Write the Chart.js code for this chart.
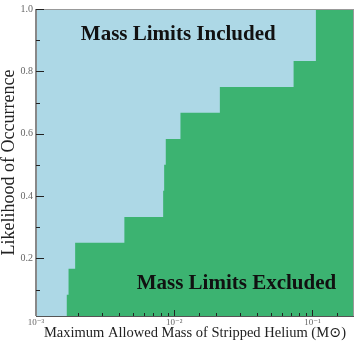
<!DOCTYPE html>
<html>
<head>
<meta charset="utf-8">
<script src="https://cdn.jsdelivr.net/npm/chart.js@4"></script>
<style>
  html, body { margin: 0; padding: 0; background: #fff; }
  #wrap { width: 357px; height: 346px; }
</style>
</head>
<body>
<div id="wrap"><canvas id="grafico" width="357" height="346"></canvas></div>
<script>
// Escalones de la curva (masa máxima de helio vs. probabilidad)
const masaHelio = [0.001, 0.00167, 0.00172, 0.00192, 0.00436, 0.00832, 0.00846, 0.00869, 0.0111, 0.0214, 0.0731, 0.106, 0.2];
const probabilidad = [0, 0.083, 0.167, 0.25, 0.333, 0.417, 0.5, 0.583, 0.667, 0.75, 0.833, 1.0, 1.0];

// Marcas del eje y
const ticksMayoresY = [0.2, 0.4, 0.6, 0.8, 1.0];
const ticksMenoresY = [0.1, 0.3, 0.5, 0.7, 0.9];

// Textos dentro del gráfico (coordenadas en datos)
const textoIncluido = { texto: 'Mass Limits Included', x: 0.0107, y: 0.918 };
const textoExcluido = { texto: 'Mass Limits Excluded', x: 0.0282, y: 0.12 };

const VERDE = '#3cb371';
const CELESTE = '#add8e6';
const SERIF = '"Liberation Serif", "DejaVu Serif", serif';

const superindices = { '-': '⁻', '0': '⁰', '1': '¹', '2': '²', '3': '³', '4': '⁴', '5': '⁵', '6': '⁶', '7': '⁷', '8': '⁸', '9': '⁹' };
function esPotencia(v) {
    const l = Math.log10(v);
    return Math.abs(l - Math.round(l)) < 1e-9;
}

// Fondo celeste, bordes, marcas hacia adentro y textos
const pluginDecoracion = {
    id: 'decoracion',
    beforeDatasetsDraw(chart) {
        const { ctx, chartArea: a } = chart;
        ctx.save();
        ctx.fillStyle = CELESTE;
        ctx.fillRect(a.left, a.top, a.right - a.left, a.bottom - a.top);
        ctx.restore();
    },
    afterDatasetsDraw(chart) {
        const { ctx, chartArea: a, scales } = chart;
        ctx.save();
        // bordes
        ctx.strokeStyle = '#999';
        ctx.lineWidth = 1;
        ctx.beginPath();
        ctx.moveTo(a.left, a.top + 0.5);
        ctx.lineTo(a.right, a.top + 0.5);
        ctx.moveTo(a.right - 0.5, a.top);
        ctx.lineTo(a.right - 0.5, a.bottom);
        ctx.stroke();
        ctx.strokeStyle = '#888';
        ctx.lineWidth = 2;
        ctx.beginPath();
        ctx.moveTo(a.left, a.top);
        ctx.lineTo(a.left, a.bottom);
        ctx.stroke();
        ctx.strokeStyle = '#555';
        ctx.lineWidth = 1;
        ctx.beginPath();
        ctx.moveTo(a.left, a.bottom + 0.5);
        ctx.lineTo(a.right, a.bottom + 0.5);
        ctx.stroke();

        // marcas del eje y
        ctx.strokeStyle = '#222';
        ctx.lineWidth = 1;
        ctx.beginPath();
        scales.y.ticks.forEach(t => {
            const py = Math.round(scales.y.getPixelForValue(t.value)) + 0.5;
            const largo = ticksMayoresY.includes(t.value) ? 8 : 4;
            ctx.moveTo(a.left, py);
            ctx.lineTo(a.left + largo, py);
        });
        // marcas del eje x
        scales.x.ticks.forEach(t => {
            if (t.value <= scales.x.min || t.value >= scales.x.max) return;
            const px = Math.round(scales.x.getPixelForValue(t.value)) + 0.5;
            const largo = esPotencia(t.value) ? 6 : 3;
            ctx.moveTo(px, a.bottom);
            ctx.lineTo(px, a.bottom - largo);
        });
        ctx.stroke();

        // textos
        ctx.fillStyle = '#111';
        ctx.font = 'bold 21px ' + SERIF;
        ctx.textAlign = 'center';
        ctx.textBaseline = 'middle';
        [textoIncluido, textoExcluido].forEach(t => {
            ctx.fillText(t.texto, scales.x.getPixelForValue(t.x), scales.y.getPixelForValue(t.y));
        });
        ctx.restore();
    }
};

const ctx = document.getElementById('grafico').getContext('2d');
new Chart(ctx, {
    type: 'line',
    data: {
        datasets: [
            {
                label: 'Excluded',
                data: masaHelio.map((m, i) => ({ x: m, y: probabilidad[i] })),
                stepped: true,
                fill: 'start',
                backgroundColor: VERDE,
                borderColor: VERDE,
                borderWidth: 0,
                pointRadius: 0
            }
        ]
    },
    options: {
        responsive: false,
        animation: false,
        events: [],
        layout: { padding: { top: 6, right: 3, left: 0, bottom: 0 } },
        plugins: {
            legend: { display: false },
            tooltip: { enabled: false }
        },
        scales: {
            x: {
                type: 'logarithmic',
                min: 0.001,
                max: 0.2,
                afterFit(scale) { scale.height = 30; },
                grid: { display: false, drawTicks: false },
                border: { display: false },
                ticks: {
                    autoSkip: false,
                    maxRotation: 0,
                    padding: 1,
                    color: '#666',
                    font: { family: SERIF, size: 9 },
                    callback(v) {
                        if (!esPotencia(v)) return '';
                        const e = String(Math.round(Math.log10(v)));
                        return '10' + e.split('').map(c => superindices[c]).join('');
                    }
                },
                title: {
                    display: true,
                    text: 'Maximum Allowed Mass of Stripped Helium (M\u2299)',
                    color: '#222',
                    font: { family: SERIF, size: 14.5, lineHeight: 1.2 },
                    padding: { top: 0, bottom: 4 }
                }
            },
            y: {
                min: 0.015,
                max: 1.0,
                afterFit(scale) { scale.width = 36; },
                afterBuildTicks(scale) {
                    scale.ticks = ticksMenoresY.concat(ticksMayoresY)
                        .sort((a, b) => a - b)
                        .map(v => ({ value: v }));
                },
                grid: { display: false, drawTicks: false },
                border: { display: false },
                ticks: {
                    padding: 3,
                    color: '#666',
                    font: { family: SERIF, size: 10 },
                    callback(v) { return ticksMayoresY.includes(v) ? v.toFixed(1) : ''; }
                },
                title: {
                    display: true,
                    text: 'Likelihood of Occurrence',
                    color: '#222',
                    font: { family: SERIF, size: 18, lineHeight: 1.0 },
                    padding: { top: 0, bottom: 0 }
                }
            }
        }
    },
    plugins: [pluginDecoracion]
});
</script>
</body>
</html>
